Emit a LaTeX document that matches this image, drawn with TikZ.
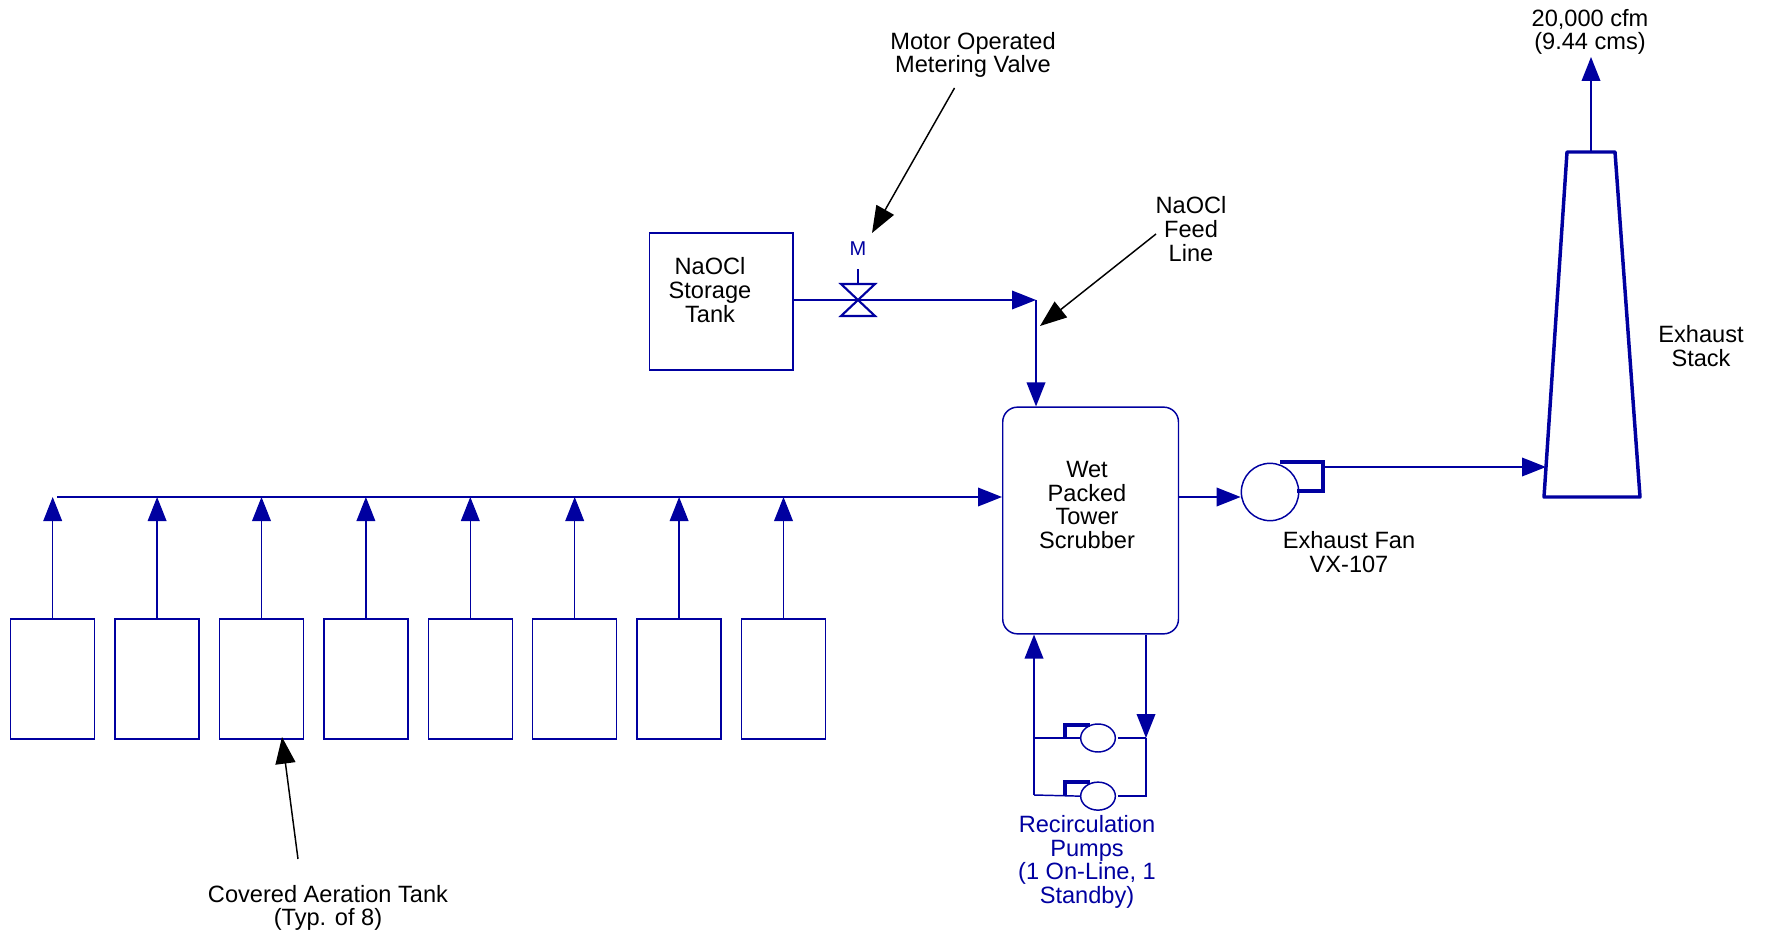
\documentclass[tikz,border=0pt]{standalone}
\usepackage{fontspec}
\setmainfont{Liberation Sans}
\usepackage{tikz}
\usetikzlibrary{positioning, arrows.meta, shapes.geometric}
\definecolor{pipeblue}{RGB}{0,0,160}

\begin{document}
\begin{tikzpicture}[
  x=0.75pt, y=-0.75pt,
  node distance=14.2pt,
  tank/.style={draw=pipeblue, line width=1.1pt, minimum width=63pt, minimum height=90pt, inner sep=0pt},
  txt/.style={align=center, inner sep=0pt, font=\fontsize{17.7}{17.7}\selectfont},
  bluetxt/.style={txt, text=pipeblue},
  pipe/.style={draw=pipeblue, line width=1.1pt},
  arrow/.style={pipe, -{Triangle[length=18pt, width=14pt]}},
  pointer/.style={draw=black, line width=1.1pt, -{Triangle[length=20pt, width=15pt]}},
  thickpipe/.style={draw=pipeblue, line width=2.6pt},
  pump/.style={ellipse, draw=pipeblue, line width=1.1pt, minimum width=26pt, minimum height=21pt, inner sep=0pt}
]
\useasboundingbox (0,0) rectangle (1765,930);

% aeration tanks
\node[tank] (tank1) at (52.7,679) {};
\node[tank, right=of tank1] (tank2) {};
\node[tank, right=of tank2] (tank3) {};
\node[tank, right=of tank3] (tank4) {};
\node[tank, right=of tank4] (tank5) {};
\node[tank, right=of tank5] (tank6) {};
\node[tank, right=of tank6] (tank7) {};
\node[tank, right=of tank7] (tank8) {};

% main equipment
\node[tank, minimum width=131.8pt, minimum height=170pt, rounded corners=11pt] (scrub) at (1090.6,520.5) {};
\node[tank, minimum width=107.6pt, minimum height=102.8pt] (store) at (721.2,301.5) {};
\node[circle, draw=pipeblue, line width=1.1pt, minimum size=43pt, inner sep=0pt] (fan) at (1270,492) {};
\node[pump] (pump1) at (1098,738) {};
\node[pump, below=21.5pt of pump1] (pump2) {};

% reference points
\coordinate (hdr) at (57,497);
\coordinate (valve) at (858,300);
\coordinate (feed) at (1036,300);
\coordinate (leftbus) at (1034,738);
\coordinate (rightbus) at (1146,738);
\coordinate (nozzle1) at (1065,738);
\coordinate (nozzle2) at (1065,795);
\coordinate (stackbl) at (1544,497);
\coordinate (stackbr) at (1640,497);
\coordinate (stacktl) at (1567,152);
\coordinate (stacktr) at (1615,152);
\coordinate (stacktop) at (1591,152);
\coordinate (flowtip) at (1591,57);
\coordinate (fanout) at (1323,467);
\coordinate (stackin) at (1546,467);

% labels
\node[txt] (storelbl) at (710,290) {NaOCl\\Storage\\Tank};
\node[txt] (scrublbl) at (1087,505) {Wet\\Packed\\Tower\\Scrubber};
\node[txt] (fanlbl) at (1349,552) {Exhaust Fan\\VX-107};
\node[txt] (stacklbl) at (1701,346) {Exhaust\\Stack};
\node[txt] (flowlbl) at (1590,32) {20,000 cfm\\(9.44 cms)};
\node[txt] (valvelbl) at (973,55) {Motor Operated\\Metering Valve};
\node[txt] (feedlbl) at (1191,229) {NaOCl\\Feed\\Line};
\node[txt] (tanklbl) at (328,908) {Covered Aeration Tank\\(Typ. of 8)};
\node[bluetxt] (pumplbl) at (1087,862) {Recirculation\\Pumps\\(1 On-Line, 1\\Standby)};
\node[bluetxt, font=\fontsize{15}{15}\selectfont, minimum height=30pt] (mlbl) at (858,249) {M};

% tank risers and header
\draw[arrow] (tank1.north) -- (tank1.north |- hdr);
\draw[arrow] (tank2.north) -- (tank2.north |- hdr);
\draw[arrow] (tank3.north) -- (tank3.north |- hdr);
\draw[arrow] (tank4.north) -- (tank4.north |- hdr);
\draw[arrow] (tank5.north) -- (tank5.north |- hdr);
\draw[arrow] (tank6.north) -- (tank6.north |- hdr);
\draw[arrow] (tank7.north) -- (tank7.north |- hdr);
\draw[arrow] (tank8.north) -- (tank8.north |- hdr);
\draw[arrow] (hdr) -- (scrub.west |- hdr);

% feed line with valve
\draw[pipe] (store.east |- valve) -- (valve);
\draw[arrow] (valve) -- (feed);
\draw[arrow] (feed) -- (scrub.north -| feed);
\draw[thickpipe, line width=1.6pt] (valve) ++(-17,-16) -- ++(34,0) -- ++(-34,32) -- ++(34,0) -- cycle;
\draw[pipe] (valve) ++(0,-16) -- (mlbl.south);

% scrubber to stack
\draw[arrow] (scrub.east |- hdr) -- (fan.west |- hdr);
\draw[thickpipe] (1280,462) -| (fanout) |- (1297,491);
\draw[arrow] (fanout) -- (stackin);
\draw[thickpipe, line join=round] (stackbl) -- (stacktl) -- (stacktr) -- (stackbr) -- cycle;
\draw[arrow] (stacktop) -- (flowtip);

% recirculation loop
\draw[arrow] (nozzle2 -| leftbus) -- (scrub.south -| leftbus);
\draw[arrow] (scrub.south -| rightbus) -- (rightbus);
\draw[pipe] (leftbus) -- (pump1.west);
\draw[pipe] (nozzle2 -| leftbus) -- (pump2.west);
\draw[pipe] (pump1.east) ++(2,0) -- (rightbus);
\draw[pipe] (pump2.east) ++(2,0) -| (rightbus);
\draw[thickpipe] (nozzle1) |- (1090,725);
\draw[thickpipe] (nozzle2) |- (1090,782);

% pointers
\draw[pointer] (954.5,88) -- (872,233);
\draw[pointer] (1156,234) -- (1040,326);
\draw[pointer] (298,859) -- (282,737);
\end{tikzpicture}
\end{document}
